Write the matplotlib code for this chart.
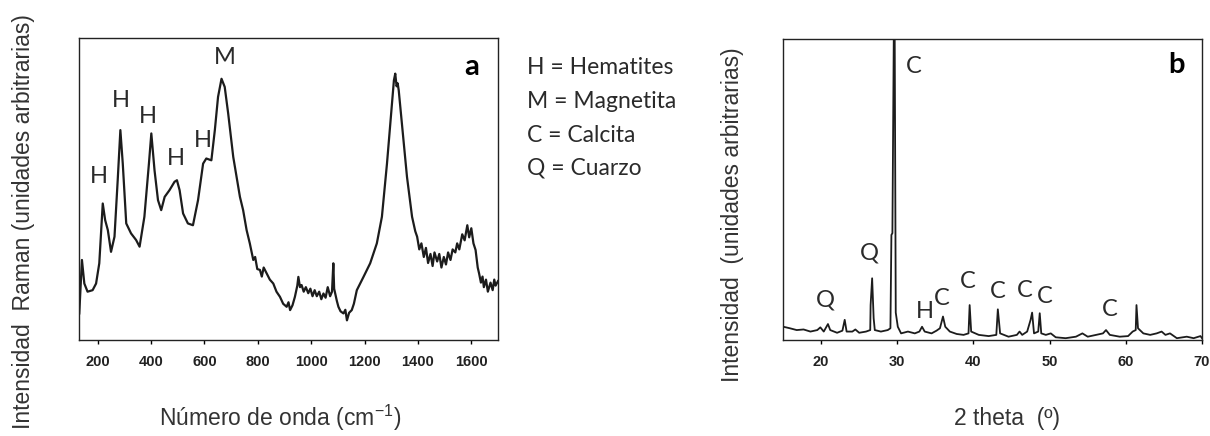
import matplotlib

matplotlib.use("Agg")

import matplotlib.pyplot as plt

# Raman spectrum (panel a)
raman_shift = [131, 141, 150, 162, 181, 194, 206, 213, 219, 228, 238, 250, 263, 275, 285,
               294, 307, 325, 344, 357, 375, 392, 401, 413, 426, 438, 451, 469, 488, 497,
               507, 520, 538, 557, 576, 595, 607, 626, 639, 651, 664, 676, 689, 708, 733,
               745, 758, 770, 783, 790, 798, 808, 815, 822, 833, 845, 858, 870, 883, 895,
               908, 915, 921, 930, 939, 948, 952, 958, 964, 972, 980, 989, 997, 1005, 1013,
               1021, 1030, 1038, 1046, 1054, 1062, 1071, 1078, 1083, 1086, 1090, 1096, 1102, 1110,
               1121, 1128, 1134, 1142, 1152, 1160, 1171, 1196, 1221, 1246, 1265, 1284, 1303, 1310,
               1315, 1320, 1324, 1328, 1340, 1359, 1378, 1390, 1397, 1405, 1413, 1422, 1430, 1438,
               1447, 1455, 1462, 1472, 1480, 1488, 1497, 1505, 1513, 1522, 1530, 1540, 1547, 1555,
               1566, 1575, 1585, 1592, 1600, 1608, 1616, 1624, 1629, 1636, 1642, 1647, 1655, 1662,
               1672, 1680, 1686, 1691, 1700]
raman_int = [8.8, 26.5, 18.7, 16.0, 16.5, 18.7, 25.4, 36.4, 45.2, 39.7, 36.4, 29.2, 34.2, 52.9, 69.5,
             58.4, 38.6, 35.3, 33.1, 30.9, 40.8, 58.4, 68.4, 56.2, 46.3, 43.0, 47.4, 49.6, 52.4, 52.9,
             49.6, 41.9, 38.6, 38.0, 46.3, 58.4, 60.1, 59.5, 69.5, 80.5, 86.5, 83.8, 75.0, 60.6, 47.4,
             43.0, 36.4, 32.0, 26.5, 27.5, 23.5, 23.2, 21.0, 24.0, 22.1, 20.0, 18.7, 16.0, 14.3, 12.0,
             11.0, 12.5, 9.9, 11.5, 14.3, 18.0, 20.9, 17.5, 18.2, 16.0, 17.5, 15.5, 17.0, 14.5, 16.5,
             14.5, 16.0, 13.5, 15.4, 14.0, 17.5, 14.5, 16.0, 25.4, 17.0, 15.4, 13.0, 11.0, 9.5,
             8.8, 10.0, 6.5, 9.0, 9.9, 12.0, 16.5, 20.9, 25.4, 32.0, 40.8, 58.4, 78.3, 86.0,
             88.2, 84.0, 85.0, 82.7, 71.7, 54.0, 40.8, 36.0, 34.2, 30.0, 32.0, 27.5, 30.5, 25.5,
             28.5, 24.5, 29.0, 26.0, 28.5, 24.0, 27.5, 25.0, 29.0, 26.5, 30.0, 29.0, 32.0, 30.0,
             35.0, 33.0, 38.0, 34.0, 37.0, 32.0, 29.8, 24.0, 22.1, 19.0, 21.0, 17.5, 20.0, 16.0,
             19.0, 16.5, 20.0, 18.0, 19.5]
raman_labels = ["H", "H", "H", "H", "H", "M"]
raman_label_x = [204, 287, 387, 494, 594, 677]
raman_label_y = [54.0, 79.4, 73.9, 60.1, 66.2, 93.5]

# XRD pattern (panel b)
two_theta = [15.05, 15.9, 16.8, 17.7, 18.6, 19.5, 19.9, 20.35, 20.9, 21.2, 22.1, 22.8, 23.1, 23.35,
             24.1, 24.5, 25.0, 25.9, 26.45, 26.5, 26.7, 26.9, 27.05, 27.85, 28.75, 29.1, 29.23,
             29.36, 29.5, 29.62, 29.8, 30.07, 30.5, 31.4, 32.3, 32.9, 33.25, 33.6, 34.5, 35.15,
             35.6, 36.0, 36.3, 36.9, 37.8, 38.7, 39.35, 39.5, 39.7, 40.7, 42.0, 43.0, 43.2, 43.5,
             44.6, 45.7, 46.05, 46.4, 47.05, 47.5, 47.7, 47.95, 48.5, 48.7, 48.9, 49.5, 50.15,
             50.8, 52.1, 53.45, 54.3, 55.0, 56.1, 57.0, 57.4, 57.9, 59.2, 60.3, 60.9, 61.3, 61.4,
             61.6, 62.3, 63.2, 64.05, 64.7, 65.2, 65.8, 66.7, 68.0, 68.9, 69.8, 70.0]
xrd_int = [4.4, 3.9, 3.3, 3.5, 2.8, 3.3, 4.2, 2.8, 5.3, 3.3, 2.4, 3.1, 6.7, 2.8,
           2.8, 3.5, 2.4, 2.8, 3.3, 11.6, 20.5, 7.2, 3.3, 2.8, 3.3, 3.9, 34.9,
           35.5, 85.9, 130.0, 9.1, 4.4, 2.2, 2.8, 2.2, 2.8, 4.4, 2.8, 2.2, 3.1,
           3.9, 7.8, 4.4, 2.8, 2.0, 1.7, 2.2, 11.6, 2.8, 1.7, 1.3, 1.7, 10.2, 2.2,
           1.1, 1.7, 2.8, 1.7, 2.8, 6.7, 9.1, 2.2, 2.8, 8.9, 2.2, 1.7, 2.2,
           0.9, 0.6, 1.1, 2.2, 1.1, 1.7, 2.2, 3.3, 1.7, 1.1, 1.3, 2.8, 3.3, 11.6,
           3.9, 2.2, 1.7, 2.2, 2.8, 1.7, 2.2, 0.6, 1.1, 0.6, 1.3, 0.6]
xrd_labels = ["Q", "Q", "C", "H", "C", "C", "C", "C", "C", "C"]
xrd_label_x = [20.55, 26.3, 32.2, 33.65, 35.85, 39.3, 43.25, 46.8, 49.4, 57.9]
xrd_label_y = [13.3, 28.8, 90.9, 9.4, 13.9, 19.4, 16.1, 16.6, 14.6, 10.2]

legend_lines = ["H = Hematites", "M = Magnetita", "C = Calcita", "Q = Cuarzo"]

ARIAL = "Liberation Sans"
CALIBRI = "Lato"
LINE = "#1c1c1c"
TEXT = "#2a2a2a"

fig = plt.figure(figsize=(12.1, 4.36), dpi=100)
W, H = 1210, 436


def axes_px(left, top, right, bottom):
    return fig.add_axes([left / W, 1 - bottom / H, (right - left) / W, (bottom - top) / H])


def style(ax):
    for side in ax.spines.values():
        side.set_linewidth(1.0)
        side.set_color("#222222")
    ax.set_yticks([])
    ax.tick_params(axis="x", direction="out", length=3, width=1, pad=8)
    for lab in ax.get_xticklabels():
        lab.set_fontfamily(ARIAL)
        lab.set_fontweight("bold")
        lab.set_fontsize(10.5)
        lab.set_color("#222222")


# panel a
ax_a = axes_px(79, 38, 498, 340)
ax_a.plot(raman_shift, raman_int, color=LINE, lw=1.6)
ax_a.set_xlim(130, 1700)
ax_a.set_ylim(0, 100)
ax_a.set_xticks(range(200, 1601, 200))
style(ax_a)
for t, x, y in zip(raman_labels, raman_label_x, raman_label_y):
    ax_a.text(x, y, t, family=CALIBRI, fontsize=17, ha="center", va="center", color=TEXT)
ax_a.text(1600, 90.4, "a", family=CALIBRI, fontsize=21, fontweight="bold", ha="center", va="center")

# panel b
ax_b = axes_px(783, 39, 1202, 340)
ax_b.plot(two_theta, xrd_int, color=LINE, lw=1.3)
ax_b.set_xlim(15, 70)
ax_b.set_ylim(0, 100)
ax_b.set_xticks(range(20, 71, 10))
style(ax_b)
for t, x, y in zip(xrd_labels, xrd_label_x, xrd_label_y):
    ax_b.text(x, y, t, family=CALIBRI, fontsize=17, ha="center", va="center", color=TEXT)
ax_b.text(66.6, 91.4, "b", family=CALIBRI, fontsize=21, fontweight="bold", ha="center", va="center")

# legend text between panels
for i, line in enumerate(legend_lines):
    fig.text(527 / W, 1 - (68 + 33.5 * i) / H, line, family=CALIBRI, fontsize=16.5,
             ha="left", va="center", color=TEXT)

# axis titles
fig.text(24 / W, 1 - 222 / H, "Intensidad  Raman (unidades arbitrarias)", family=ARIAL,
         fontsize=16.5, rotation=90, ha="center", va="center", color="#333333")
fig.text(280 / W, 1 - 418 / H, r"Número de onda (cm$^{\mathregular{-1}}$)", family=ARIAL,
         fontsize=16.5, ha="center", va="center", color="#333333")
fig.text(732 / W, 1 - 215 / H, "Intensidad  (unidades arbitrarias)", family=ARIAL,
         fontsize=16.5, rotation=90, ha="center", va="center", color="#333333")
fig.text(1007 / W, 1 - 418 / H, "2 theta  (º)", family=ARIAL,
         fontsize=16.5, ha="center", va="center", color="#333333")

fig.savefig("out.png", dpi=100)
